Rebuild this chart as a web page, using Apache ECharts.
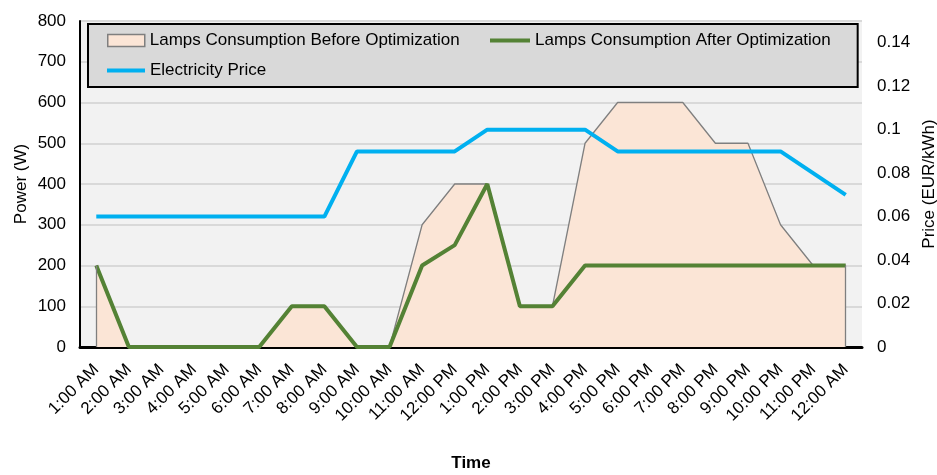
<!DOCTYPE html>
<html>
<head>
<meta charset="utf-8">
<script src="https://cdn.jsdelivr.net/npm/echarts@6/dist/echarts.min.js"></script>
<style>html,body{margin:0;padding:0;background:#fff;}#c{width:937px;height:475px;}</style>
</head>
<body>
<div id="c"></div>
<script>
var categories = ['1:00 AM','2:00 AM','3:00 AM','4:00 AM','5:00 AM','6:00 AM','7:00 AM','8:00 AM','9:00 AM','10:00 AM','11:00 AM','12:00 PM','1:00 PM','2:00 PM','3:00 PM','4:00 PM','5:00 PM','6:00 PM','7:00 PM','8:00 PM','9:00 PM','10:00 PM','11:00 PM','12:00 AM'];
var beforeOpt = [200,0,0,0,0,0,100,100,0,0,300,400,400,100,100,500,600,600,600,500,500,300,200,200];
var afterOpt = [200,0,0,0,0,0,100,100,0,0,200,250,400,100,100,200,200,200,200,200,200,200,200,200];
var price = [0.06,0.06,0.06,0.06,0.06,0.06,0.06,0.06,0.09,0.09,0.09,0.09,0.1,0.1,0.1,0.1,0.09,0.09,0.09,0.09,0.09,0.09,0.08,0.07];
var powerTicks = {min:0, max:800, interval:100};
var priceTicks = {min:0, max:0.15, interval:0.02};

var FONT = 'Liberation Sans, Arial, sans-serif';
var TXT = {fontFamily:FONT, fontSize:17, color:'#000'};
var chart = echarts.init(document.getElementById('c'));
var last = categories.length - 1;
chart.setOption({
  animation: false,
  grid: {left:80, right:75, top:21, bottom:128, show:true, backgroundColor:'#f2f2f2', borderWidth:0, outerBoundsMode:'none', containLabel:false},
  legend: [{
    data: [
      {name:'Lamps Consumption Before Optimization', icon:'rect', itemStyle:{color:'#fbe5d6', borderColor:'#7f7f7f', borderWidth:1.5}}
    ],
    left: 88, top: 24, itemWidth: 37, itemHeight: 12,
    padding: [8, 398, 38, 19],
    backgroundColor:'#d9d9d9', borderColor:'#000', borderWidth:2,
    textStyle:TXT, z: 5
  },{
    data: [{name:'Lamps Consumption After Optimization', icon:'rect', itemStyle:{color:'#548235', borderWidth:0}}],
    left: 490, top: 32, itemWidth: 40, itemHeight: 4, padding: 0,
    textStyle:TXT, z: 10
  },{
    data: [{name:'Electricity Price', icon:'rect', itemStyle:{color:'#00b0f0', borderWidth:0}}],
    left: 107, top: 62, itemWidth: 38, itemHeight: 4, padding: 0,
    textStyle:TXT, z: 10
  }],
  xAxis: {
    type:'category', data: categories, boundaryGap:true,
    name:'Time', nameLocation:'middle', nameGap:108,
    nameTextStyle:{fontFamily:FONT, fontSize:17, fontWeight:'bold', color:'#000'},
    axisLine:{lineStyle:{color:'#000', width:3}},
    axisTick:{show:false},
    axisLabel:{interval:0, rotate:45, fontFamily:FONT, fontSize:17, color:'#000', margin:20},
    splitLine:{show:false}
  },
  yAxis: [{
    type:'value', min:powerTicks.min, max:powerTicks.max, interval:powerTicks.interval,
    name:'Power (W)', nameLocation:'middle', nameGap:50, nameMoveOverlap:false,
    nameTextStyle:TXT,
    axisLine:{show:true, lineStyle:{color:'#000', width:2}},
    axisTick:{show:false},
    axisLabel:{fontFamily:FONT, fontSize:17, color:'#000', margin:14},
    splitLine:{show:true, lineStyle:{color:'#d9d9d9', width:2}}
  },{
    type:'value', min:priceTicks.min, max:priceTicks.max, interval:priceTicks.interval,
    name:'Price (EUR/kWh)', nameLocation:'middle', nameGap:58,
    nameTextStyle:TXT,
    axisLine:{show:false}, axisTick:{show:false},
    axisLabel:{fontFamily:FONT, fontSize:17, color:'#000', margin:15, showMaxLabel:false,
      formatter:function(v){return String(Math.round(v*100)/100);}},
    splitLine:{show:false}
  }],
  series: [{
    name:'Lamps Consumption Before Optimization', type:'line', data: beforeOpt, yAxisIndex:0,
    symbol:'none', showSymbol:false, z:2,
    lineStyle:{color:'#7f7f7f', width:1.3},
    itemStyle:{color:'#fbe5d6', borderColor:'#7f7f7f'},
    areaStyle:{color:'#fbe5d6', opacity:1},
    markLine:{silent:true, symbol:'none', label:{show:false}, lineStyle:{color:'#7f7f7f', width:1.3, type:'solid'},
      data:[
        [{coord:[categories[0],0]},{coord:[categories[0],beforeOpt[0]]}],
        [{coord:[categories[last],0]},{coord:[categories[last],beforeOpt[last]]}]
      ]}
  },{
    name:'Lamps Consumption After Optimization', type:'line', data: afterOpt, yAxisIndex:0,
    symbol:'none', showSymbol:false, z:3,
    lineStyle:{color:'#548235', width:4}, itemStyle:{color:'#548235'}
  },{
    name:'Electricity Price', type:'line', data: price, yAxisIndex:1,
    symbol:'none', showSymbol:false, z:4,
    lineStyle:{color:'#00b0f0', width:4}, itemStyle:{color:'#00b0f0'}
  }]
});
</script>
</body>
</html>
